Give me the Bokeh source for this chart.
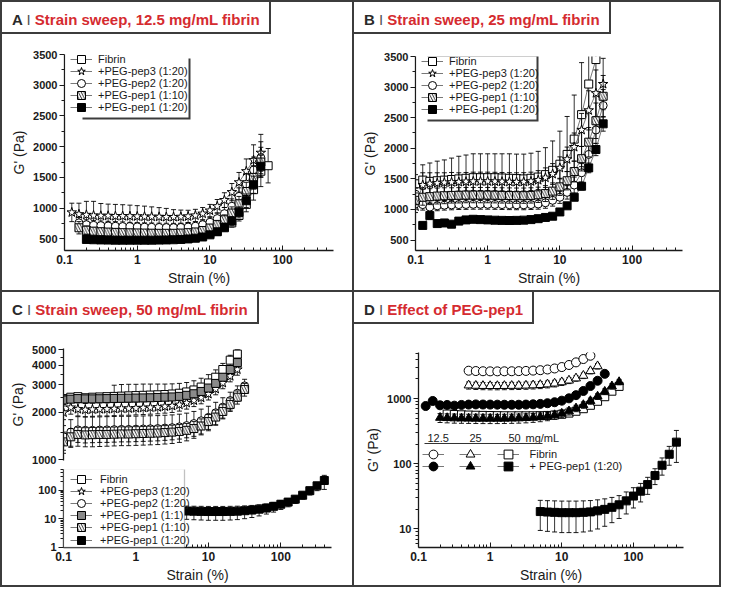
from bokeh.plotting import figure
from bokeh.models import (FixedTicker, NumeralTickFormatter, Legend, LegendItem,
                          BoxAnnotation, Label, Div, Range1d)
from bokeh.layouts import row, column
from bokeh.embed import file_html
from bokeh.resources import INLINE

FONT = "Liberation Sans"
INK = "#1a1a1a"
RED = "#d52b30"
FRAME = "#3c3c3c"

# strain grid (%), 10 points per decade
STRAIN = [0.1, 0.126, 0.158, 0.2, 0.251, 0.316, 0.398, 0.501, 0.631, 0.794,
          1.0, 1.26, 1.58, 2.0, 2.51, 3.16, 3.98, 5.01, 6.31, 7.94,
          10.0, 12.6, 15.8, 20.0, 25.1, 31.6, 39.8, 50.1, 63.1, 79.4,
          100.0, 126.0, 158.0, 200.0, 251.0, 316.0, 398.0]

X_TICKS = [0.1, 1, 10, 100]
X_MINOR = [0.2, 0.3, 0.4, 0.5, 0.6, 0.7, 0.8, 0.9, 2, 3, 4, 5, 6, 7, 8, 9,
           20, 30, 40, 50, 60, 70, 80, 90, 200, 300, 400]
LIN_TICKS = [500, 1000, 1500, 2000, 2500, 3000, 3500]
LIN_MINOR = [750, 1250, 1750, 2250, 2750, 3250]
CU_TICKS = [1000, 2000, 3000, 4000, 5000]
CU_MINOR = [1500, 2500, 3500, 4500]
CL_TICKS = [1, 10, 100]
CL_MINOR = [2, 3, 4, 5, 6, 7, 8, 9, 20, 30, 40, 50, 60, 70, 80, 90, 200, 300, 400, 500]
D_TICKS = [10, 100, 1000]
D_MINOR = [6, 7, 8, 9, 20, 30, 40, 50, 60, 70, 80, 90, 200, 300, 400, 500, 600, 700,
           800, 900, 2000, 3000, 4000, 5000]

LABELS_ABC = ["Fibrin", "+PEG-pep3 (1:20)", "+PEG-pep2 (1:20)", "+PEG-pep1 (1:1)",
              "+PEG-pep1 (1:10)", "+PEG-pep1 (1:20)"]

# ---------------- Panel A: 12.5 mg/mL ----------------
A_FIB_X = STRAIN[3:29]
A_FIB_G = [620, 600, 590, 580, 575, 570, 565, 560, 555, 550, 548, 545, 545, 545, 548, 555,
           565, 585, 620, 680, 760, 880, 1060, 1300, 1600, 1690]
A_FIB_E = [50, 50, 45, 45, 45, 45, 45, 45, 45, 45, 45, 45, 45, 45, 45, 45, 45, 50, 55, 60,
           70, 90, 120, 170, 250, 280]
A_PEP3_X = STRAIN[1:28]
A_PEP3_G = [930, 900, 890, 880, 875, 875, 870, 870, 868, 865, 862, 860, 858, 855, 855, 858,
            865, 880, 910, 960, 1030, 1130, 1260, 1420, 1600, 1780, 1900]
A_PEP3_E = [150, 180, 220, 230, 200, 190, 190, 185, 180, 175, 170, 160, 150, 140, 120, 110,
            100, 100, 100, 100, 110, 120, 140, 160, 200, 250, 300]
A_PEP2_X = STRAIN[2:28]
A_PEP2_G = [760, 730, 720, 715, 710, 705, 700, 698, 695, 690, 688, 685, 683, 682, 685, 692,
            705, 730, 770, 830, 910, 1030, 1190, 1390, 1620, 1820]
A_PEP2_E = [90, 80, 80, 75, 75, 75, 75, 70, 70, 70, 70, 70, 70, 70, 70, 70, 70, 75, 80, 90,
            100, 120, 140, 170, 210, 260]
A_P10_X = STRAIN[2:28]
A_P10_G = [680, 640, 625, 615, 610, 605, 600, 598, 596, 594, 592, 590, 590, 590, 594, 600,
           612, 635, 675, 730, 810, 920, 1070, 1270, 1500, 1750]
A_P10_E = [100, 70, 60, 60, 55, 55, 55, 55, 55, 55, 55, 55, 55, 55, 55, 55, 55, 60, 60, 70,
           80, 100, 120, 150, 190, 240]
A_P20_X = STRAIN[3:28]
A_P20_G = [490, 485, 482, 480, 478, 478, 478, 478, 478, 478, 480, 482, 485, 490, 498, 510,
           530, 565, 615, 690, 790, 930, 1120, 1380, 1680]
A_P20_E = [40, 35, 35, 35, 35, 35, 35, 35, 35, 35, 35, 35, 35, 35, 35, 35, 40, 45, 50, 60,
           70, 90, 110, 140, 180]

# ---------------- Panel B: 25 mg/mL ----------------
B_FIB_X = STRAIN[0:26]
B_FIB_G = [1420, 1480, 1460, 1470, 1480, 1490, 1500, 1510, 1520, 1520, 1520, 1520, 1515,
           1510, 1505, 1500, 1510, 1530, 1570, 1640, 1740, 1900, 2150, 2550, 3050, 3450]
B_FIB_E = [150, 250, 300, 320, 330, 350, 370, 380, 390, 390, 390, 390, 395, 400, 400, 405,
           410, 420, 440, 480, 540, 620, 720, 850, 1000, 1200]
B_PEP3_X = STRAIN[0:27]
B_PEP3_G = [1050, 1400, 1420, 1430, 1440, 1445, 1450, 1455, 1460, 1460, 1460, 1458, 1455,
            1452, 1450, 1452, 1460, 1480, 1520, 1580, 1680, 1820, 2020, 2300, 2620, 2900, 3050]
B_PEP3_E = [100, 200, 180, 170, 160, 160, 150, 150, 150, 150, 150, 150, 150, 150, 150, 150,
            150, 155, 160, 170, 180, 200, 230, 270, 320, 380, 420]
B_PEP2_X = STRAIN[0:27]
B_PEP2_G = [1250, 1080, 1040, 1060, 1070, 1075, 1080, 1082, 1085, 1085, 1085, 1083, 1080,
            1078, 1076, 1076, 1080, 1090, 1110, 1150, 1200, 1280, 1400, 1600, 1900, 2300, 2700]
B_PEP2_E = [100, 90, 80, 80, 80, 80, 80, 80, 80, 80, 80, 80, 80, 80, 80, 80, 80, 85, 90, 95,
            100, 110, 130, 150, 180, 220, 260]
B_P10_X = STRAIN[0:27]
B_P10_G = [1150, 1200, 1210, 1220, 1225, 1230, 1232, 1235, 1235, 1235, 1235, 1233, 1230,
           1228, 1226, 1226, 1230, 1240, 1260, 1300, 1370, 1470, 1620, 1830, 2100, 2450, 2850]
B_P10_E = [120, 130, 130, 130, 130, 125, 125, 125, 125, 125, 125, 125, 125, 125, 125, 125,
           125, 125, 130, 135, 140, 150, 170, 200, 240, 290, 340]
B_P20_X = STRAIN[1:27]
B_P20_G = [740, 900, 770, 780, 760, 810, 830, 840, 835, 830, 825, 822, 820, 822, 826, 835,
           850, 870, 890, 960, 1060, 1200, 1380, 1680, 1980, 2400]
B_P20_E = [40, 60, 50, 50, 40, 40, 35, 30, 30, 30, 30, 30, 30, 30, 30, 30, 30, 30, 35, 40,
           45, 50, 60, 80, 100, 120]

# ---------------- Panel C: 50 mg/mL (broken y axis) ----------------
C_FIB_X = STRAIN[0:25]
C_FIB_G = [2450, 2500, 2520, 2480, 2500, 2510, 2520, 2530, 2540, 2550, 2560, 2570, 2580,
           2590, 2600, 2620, 2650, 2700, 2780, 2900, 3080, 3350, 3750, 4300, 4700]
C_FIB_E = [120, 120, 110, 100, 100, 100, 100, 450, 470, 470, 460, 460, 450, 440, 430, 420,
           410, 400, 400, 400, 400, 380, 350, 320, 300]
C_P1_X = STRAIN[0:25]
C_P1_G = [2400, 2430, 2450, 2440, 2440, 2445, 2450, 2455, 2460, 2465, 2470, 2475, 2480,
          2490, 2500, 2510, 2530, 2570, 2630, 2720, 2860, 3060, 3350, 3750, 4150]
C_P1_E = [150, 120, 100, 100, 100, 100, 100, 100, 100, 100, 100, 100, 100, 100, 100, 100,
          100, 100, 110, 120, 130, 150, 170, 200, 250]
C_PEP3_X = STRAIN[0:25]
C_PEP3_G = [2000, 2150, 2100, 2080, 2090, 2100, 2100, 2110, 2120, 2120, 2130, 2140, 2150,
            2160, 2180, 2200, 2240, 2300, 2380, 2480, 2620, 2820, 3080, 3400, 3750]
C_PEP3_E = [200, 200, 200, 200, 200, 200, 200, 200, 200, 200, 200, 200, 200, 200, 200, 200,
            200, 200, 200, 210, 220, 230, 250, 270, 300]
C_PEP2_X = STRAIN[0:26]
C_PEP2_G = [1400, 1500, 1550, 1540, 1540, 1545, 1550, 1555, 1560, 1560, 1565, 1570, 1575,
            1580, 1590, 1600, 1620, 1650, 1700, 1770, 1860, 1990, 2160, 2380, 2650, 2950]
C_PEP2_E = [250, 300, 330, 330, 330, 330, 330, 330, 330, 330, 330, 330, 330, 330, 330, 330,
            330, 330, 330, 330, 330, 330, 320, 310, 300, 300]
C_P10_X = STRAIN[0:26]
C_P10_G = [1300, 1400, 1450, 1440, 1445, 1450, 1450, 1455, 1460, 1460, 1465, 1470, 1475,
           1480, 1490, 1500, 1515, 1540, 1580, 1640, 1750, 1870, 2030, 2250, 2500, 2800]
C_P10_E = [200, 180, 160, 160, 160, 160, 160, 160, 160, 160, 160, 160, 160, 160, 160, 160,
           160, 160, 170, 180, 190, 200, 210, 220, 240, 260]
C_P20_X = STRAIN[17:37]
C_P20_G = [18.5, 18.2, 18.0, 17.8, 17.8, 17.8, 18.0, 18.3, 19.0, 20.0, 21.5, 23.5, 27.0,
           32.0, 38.0, 48.0, 66.0, 95.0, 140.0, 215.0]
C_P20_E = [9, 9, 9, 9, 9, 9, 9, 9, 9, 9, 9, 9, 10, 11, 12, 14, 18, 28, 45, 110]

# ---------------- Panel D: effect of PEG-pep1 ----------------
D_CIRC_OPEN_X = STRAIN[7:25]
D_CIRC_OPEN_G = [2680, 2650, 2630, 2620, 2620, 2625, 2630, 2640, 2660, 2690, 2730, 2800,
                 2900, 3050, 3280, 3600, 4050, 4550]
D_TRI_OPEN_X = STRAIN[7:26]
D_TRI_OPEN_G = [1600, 1580, 1570, 1565, 1565, 1570, 1575, 1580, 1590, 1605, 1625, 1660,
                1710, 1790, 1900, 2050, 2250, 2650, 3150]
D_TRI_OPEN_E = [200, 200, 200, 200, 200, 200, 200, 200, 200, 200, 200, 200, 200, 200, 200,
                200, 220, 250, 300]
D_CIRC_FILL_X = STRAIN[1:27]
D_CIRC_FILL_G = [770, 920, 790, 800, 780, 800, 810, 815, 812, 810, 808, 806, 805, 806, 810,
                 818, 830, 850, 880, 930, 1010, 1130, 1310, 1560, 1880, 2400]
D_TRI_FILL_X = STRAIN[3:29]
D_TRI_FILL_G = [510, 505, 500, 498, 496, 495, 494, 494, 494, 495, 497, 500, 505, 512, 522,
                538, 560, 590, 640, 710, 800, 920, 1080, 1280, 1550, 1800]
D_TRI_FILL_E = [80, 80, 80, 80, 80, 80, 80, 80, 80, 80, 80, 80, 80, 80, 80, 80, 80, 80, 80,
                80, 90, 100, 110, 130, 150, 170]
D_SQ_OPEN_X = STRAIN[4:29]
D_SQ_OPEN_G = [580, 570, 565, 560, 556, 553, 550, 548, 546, 545, 545, 545, 546, 548, 552,
               560, 575, 600, 640, 700, 790, 910, 1070, 1300, 1540]
D_HEADER = ["12.5", "25", "50", "mg/mL"]
D_LABELS = ["Fibrin", "+ PEG-pep1 (1:20)"]


def make_fig(w, h, yr, ytype, left, right, top, bottom, xaxis=True):
    p = figure(width=w, height=h, x_axis_type="log", y_axis_type=ytype,
               x_range=Range1d(0.1, 500), y_range=Range1d(*yr),
               output_backend="svg", toolbar_location=None,
               x_axis_location="below" if xaxis else None,
               min_border_left=left, min_border_right=right,
               min_border_top=top, min_border_bottom=bottom)
    p.grid.visible = False
    p.outline_line_color = None
    p.background_fill_color = "white"
    p.border_fill_color = "white"
    for ax in p.xaxis:
        ax.ticker = FixedTicker(ticks=X_TICKS, minor_ticks=X_MINOR)
        ax.formatter = NumeralTickFormatter(format="0.[0]")
        ax.major_tick_in, ax.major_tick_out = 5, 0
        ax.minor_tick_in, ax.minor_tick_out = 3, 0
        ax.axis_line_width = 1.3
        ax.axis_line_color = INK
        ax.major_tick_line_color = INK
        ax.minor_tick_line_color = INK
        ax.major_label_text_font = FONT
        ax.major_label_text_font_size = "12px"
        ax.major_label_text_font_style = "bold"
        ax.major_label_text_color = INK
        ax.major_label_standoff = 4
        ax.axis_label = "Strain (%)"
        ax.axis_label_text_font = FONT
        ax.axis_label_text_font_size = "14px"
        ax.axis_label_text_font_style = "normal"
        ax.axis_label_text_color = INK
        ax.axis_label_standoff = 3
    for ax in p.yaxis:
        ax.major_tick_in, ax.major_tick_out = 0, 5
        ax.minor_tick_in, ax.minor_tick_out = 0, 3
        ax.axis_line_width = 1.3
        ax.axis_line_color = INK
        ax.major_tick_line_color = INK
        ax.minor_tick_line_color = INK
        ax.formatter = NumeralTickFormatter(format="0")
        ax.major_label_text_font = FONT
        ax.major_label_text_font_size = "11px"
        ax.major_label_text_font_style = "bold"
        ax.major_label_text_color = INK
        ax.major_label_standoff = 2
        ax.axis_label_text_font = FONT
        ax.axis_label_text_font_size = "14px"
        ax.axis_label_text_font_style = "normal"
        ax.axis_label_text_color = INK
        ax.axis_label_standoff = 3
    return p


def set_yticks(p, ticks, minor, label=None):
    p.yaxis.ticker = FixedTicker(ticks=ticks, minor_ticks=minor)
    if label:
        p.yaxis.axis_label = label


HATCH = dict(hatch_pattern="\\", hatch_scale=5.5, hatch_weight=0.8, hatch_color="black")


def series(p, xs, ys, es, marker, fill, size=8, hatch=False):
    xs = list(xs)
    if es is not None:
        lo = [y - e for y, e in zip(ys, es)]
        hi = [y + e for y, e in zip(ys, es)]
        p.segment(xs, lo, xs, hi, line_color="black", line_width=0.8)
        p.scatter(xs + xs, hi + lo, marker="dash", size=5, line_color="black",
                  line_width=0.9)
    lr = p.line(xs, ys, line_color="#555555", line_width=0.8)
    kw = dict(marker=marker, size=size, fill_color=fill, line_color="black", line_width=1.0)
    if hatch:
        kw.update(HATCH)
    sr = p.scatter(xs, ys, **kw)
    return [lr, sr]


def legend_row(p, label, rs, x, yc, glyph_w=22, glyph_h=20, standoff=6):
    """one legend entry whose row centre sits yc px above the frame bottom"""
    lg = Legend(items=[LegendItem(label=label, renderers=rs)],
                location=(x, yc - glyph_h / 2), orientation="vertical",
                glyph_width=glyph_w, glyph_height=glyph_h, label_height=glyph_h,
                spacing=0, padding=0, margin=0, label_standoff=standoff,
                label_text_font=FONT, label_text_font_size="11px",
                label_text_color=INK, background_fill_alpha=0.0,
                border_line_color=None)
    p.add_layout(lg, "center")


def box(p, left, right, top, bottom, fill, line=None):
    p.add_layout(BoxAnnotation(left=left, right=right, top=top, bottom=bottom,
                               left_units="screen", right_units="screen",
                               top_units="screen", bottom_units="screen",
                               fill_color=fill, fill_alpha=1.0, line_color=line,
                               line_width=1.3))


def title_div(letter, text, width):
    html = ("<div style=\"display:inline-block;box-sizing:border-box;height:32px;"
            "padding:5px 9px 0 10px;border-right:2px solid #3c3c3c;"
            "border-bottom:2px solid #3c3c3c;font-family:'Liberation Sans',Arial,sans-serif;"
            "font-size:15px;font-weight:bold;white-space:nowrap;line-height:25px;"
            "color:#2a2a2a;\">"
            f"{letter} <span style=\"font-weight:normal;color:#555\">I</span> "
            f"<span style=\"color:{RED}\">{text}</span></div>")
    return Div(text=html, width=width, height=32, margin=0,
               styles={"background-color": "white"})


# ---------- A ----------
pA = make_fig(350, 256, (310, 3500), "linear", 62, 19, 20, 40)
set_yticks(pA, LIN_TICKS, LIN_MINOR, "G' (Pa)")
rA = [series(pA, A_FIB_X, A_FIB_G, A_FIB_E, "square", "white"),
      series(pA, A_PEP3_X, A_PEP3_G, A_PEP3_E, "star", "white", 10),
      series(pA, A_PEP2_X, A_PEP2_G, A_PEP2_E, "circle", "white"),
      series(pA, A_P10_X, A_P10_G, A_P10_E, "square", "white", hatch=True),
      series(pA, A_P20_X, A_P20_G, A_P20_E, "square", "black")]
box(pA, 18, 126, 192, 131, FRAME)
box(pA, 1, 124, 198, 133, "white")
for lab, rs, yc in zip([LABELS_ABC[i] for i in (0, 1, 2, 4, 5)], rA,
                       [191, 179, 167, 155, 143]):
    legend_row(pA, lab, rs, 6, yc)

# ---------- B ----------
pB = make_fig(365, 256, (330, 3500), "linear", 61, 37, 22, 40)
set_yticks(pB, LIN_TICKS, LIN_MINOR, "G' (Pa)")
rB = [series(pB, B_FIB_X, B_FIB_G, B_FIB_E, "square", "white"),
      series(pB, B_PEP3_X, B_PEP3_G, B_PEP3_E, "star", "white", 10),
      series(pB, B_PEP2_X, B_PEP2_G, B_PEP2_E, "circle", "white"),
      series(pB, B_P10_X, B_P10_G, B_P10_E, "square", "white", hatch=True),
      series(pB, B_P20_X, B_P20_G, B_P20_E, "square", "black")]
box(pB, 12, 123, 196, 129, FRAME)
box(pB, 1, 121, 198, 131, "white")
for lab, rs, yc in zip([LABELS_ABC[i] for i in (0, 1, 2, 4, 5)], rB,
                       [188.6, 176.6, 164.6, 152.6, 140.6]):
    legend_row(pB, lab, rs, 6, yc)

# ---------- C: every series is drawn in both segments of the broken axis ----------
pCu = make_fig(350, 143, (990, 5100), "log", 61, 21, 24, 7, xaxis=False)
set_yticks(pCu, CU_TICKS, CU_MINOR, "G' (Pa)")
pCl = make_fig(350, 118, (0.99, 520), "log", 61, 21, 2, 38)
set_yticks(pCl, CL_TICKS, CL_MINOR)
pCl.x_range = pCu.x_range
C_SERIES = [(C_FIB_X, C_FIB_G, C_FIB_E, "square", "white", 8, False),
            (C_PEP3_X, C_PEP3_G, C_PEP3_E, "star", "white", 10, False),
            (C_PEP2_X, C_PEP2_G, C_PEP2_E, "circle", "white", 8, False),
            (C_P1_X, C_P1_G, C_P1_E, "square", "#8a8a8a", 8, False),
            (C_P10_X, C_P10_G, C_P10_E, "square", "white", 8, True),
            (C_P20_X, C_P20_G, C_P20_E, "square", "black", 8, False)]
for s in C_SERIES:
    series(pCu, *s)
box(pCl, 0, 121, 79, 0, "white", "#333333")
rC = [series(pCl, *s) for s in C_SERIES]
for lab, rs, yc in zip(LABELS_ABC, rC, [68.5, 56.3, 44.1, 31.9, 19.7, 7.5]):
    legend_row(pCl, lab, rs, 7, yc, standoff=8)

# ---------- D ----------
pD = make_fig(365, 261, (5.2, 5100), "log", 64, 36, 28, 38)
set_yticks(pD, D_TICKS, D_MINOR, "G' (Pa)")
d_co = series(pD, D_CIRC_OPEN_X, D_CIRC_OPEN_G, None, "circle", "white", 9)
d_to = series(pD, D_TRI_OPEN_X, D_TRI_OPEN_G, D_TRI_OPEN_E, "triangle", "white", 9)
d_cf = series(pD, D_CIRC_FILL_X, D_CIRC_FILL_G, None, "circle", "black", 9)
d_so = series(pD, D_SQ_OPEN_X, D_SQ_OPEN_G, None, "square", "white", 8)
d_tf = series(pD, D_TRI_FILL_X, D_TRI_FILL_G, D_TRI_FILL_E, "triangle", "black", 9)
d_sf = series(pD, C_P20_X, C_P20_G, C_P20_E, "square", "black", 8)
for yc, (rc, rt, rsq, lab) in zip([93, 80.6], [(d_co, d_to, d_so, D_LABELS[0]),
                                              (d_cf, d_tf, d_sf, D_LABELS[1])]):
    legend_row(pD, " ", rc, 3.5, yc, glyph_h=22, standoff=0)
    legend_row(pD, " ", rt, 41, yc, glyph_h=22, standoff=0)
    legend_row(pD, lab, rsq, 78.6, yc, glyph_h=22, standoff=11)
for txt, xpos in zip(D_HEADER, [9, 51, 90, 107]):
    pD.add_layout(Label(x=xpos, y=110, x_units="screen", y_units="screen", text=txt,
                        text_font=FONT, text_font_size="11px", text_color=INK,
                        text_baseline="middle", text_align="left"))
box(pD, 6, 124, 104.6, 103.4, "#333333")

WHITE = {"background-color": "white"}
panelA = column(title_div("A", "Strain sweep, 12.5 mg/mL fibrin", 350), pA, spacing=0,
                styles=WHITE)
panelB = column(title_div("B", "Strain sweep, 25 mg/mL fibrin", 365), pB, spacing=0,
                styles=WHITE)
panelC = column(title_div("C", "Strain sweep, 50 mg/mL fibrin", 350), pCu, pCl, spacing=0,
                styles=WHITE)
panelD = column(title_div("D", "Effect of PEG-pep1", 365), pD, spacing=0, styles=WHITE)

page = column(row(panelA, panelB, spacing=2), row(panelC, panelD, spacing=2), spacing=2,
              styles={"background-color": FRAME, "padding": "2px"})

open("out.html", "w").write(file_html(page, INLINE))
